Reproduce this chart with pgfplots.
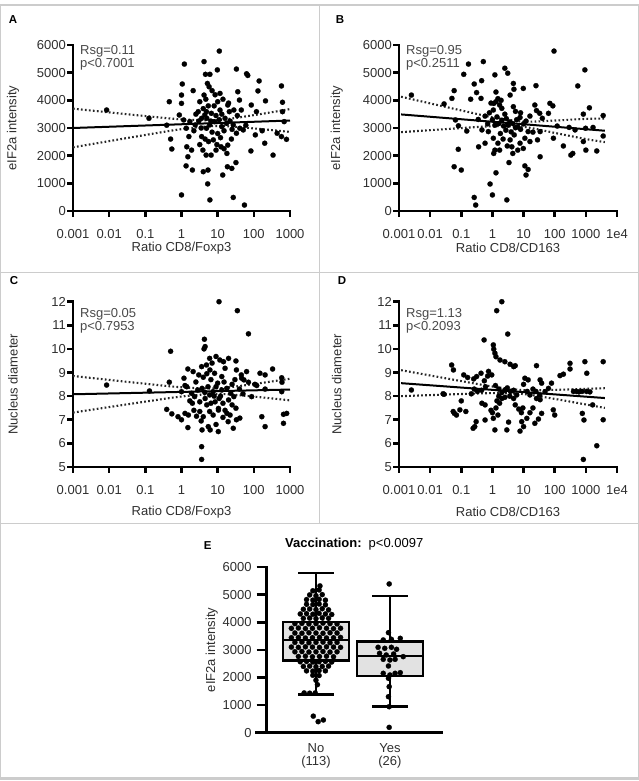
\documentclass[border=0pt]{standalone}
\usepackage{fontspec}
\setmainfont{Liberation Sans}
\usepackage{pgfplots}
\pgfplotsset{compat=1.18}
\definecolor{txt}{HTML}{303030}
\definecolor{rsg}{HTML}{4A4A4A}
\definecolor{frm}{HTML}{CCCCCC}
\definecolor{boxfill}{HTML}{E2E2E2}
\pgfplotsset{
  panel/.style={
    scale only axis, clip=false,
    axis x line*=bottom, axis y line*=left,
    axis line style={line width=2.6pt, line cap=rect},
    tick align=outside,
    major tick length=6pt,
    tick style={line width=2.6pt, black},
    tick label style={font=\fontsize{13}{13}\selectfont, text=txt, inner sep=1pt},
    label style={font=\fontsize{13}{13}\selectfont, text=txt},
  },
  scat/.style={only marks, mark=*, mark size=2.6pt, mark options={fill=black, draw=black, line width=0.2pt}},
  reg/.style={line width=2pt, black, no marks},
  band/.style={line width=2.1pt, black!85, dash pattern=on 1.7pt off 2.3pt, smooth, no marks},
  logA/.style={xmin=0.001, xmax=1000, xtick={0.001,0.01,0.1,1,10,100,1000},
    xticklabels={0.001,0.01,0.1,1,10,100,1000}, xminorticks=false, xticklabel style={yshift=-11.5pt}},
  logB/.style={xmin=0.001, xmax=10000, xtick={0.001,0.01,0.1,1,10,100,1000,10000},
    xticklabels={0.001,0.01,0.1,1,10,100,1000,1e4}, xminorticks=false, xticklabel style={yshift=-11.5pt}},
  eif/.style={ymin=0, ymax=6000, ytick={0,1000,2000,3000,4000,5000,6000},
    yticklabels={0,1000,2000,3000,4000,5000,6000}, ylabel={eIF2a intensity}},
  nuc/.style={ymin=5, ymax=12, ytick={5,6,7,8,9,10,11,12},
    yticklabels={5,6,7,8,9,10,11,12}, ylabel={Nucleus diameter}},
  bx/.style={draw=black, line width=2.6pt, line join=miter, line cap=rect, no marks},
}
\newcommand{\rsg}[3]{\node[anchor=north west, inner sep=0pt, align=left, font=\fontsize{13}{10.7}\selectfont, text=rsg] at (rel axis cs:0.032,#3) {Rsg=#1\\p<#2};}
% thick tick marks: #1 = x list, #2 = y list, #3 = ymin
\newcommand{\thickticks}[3]{%
  \pgfplotsinvokeforeach{#1}{\draw[line width=2.6pt, black] (axis cs:##1,#3) -- ++(0pt,-6pt);}%
  \pgfplotsinvokeforeach{#2}{\draw[line width=2.6pt, black] (axis cs:0.001,##1) -- ++(-6pt,0pt);}%
}
\begin{document}
\begin{tikzpicture}[x=1pt,y=1pt]
\useasboundingbox (0,0) rectangle (639,781);
\fill[white] (0,0) rectangle (639,781);
% frame
\draw[frm, line width=2.5pt] (0,776) -- (639,776);
\draw[frm, line width=3pt] (0,2) -- (639,2);
\draw[frm, line width=1pt] (0.5,2) -- (0.5,776);
\draw[frm, line width=1pt] (638.5,2) -- (638.5,776);
\draw[frm, line width=1.2pt] (0,508.3) -- (639,508.3);
\draw[frm, line width=1.2pt] (0,257.7) -- (639,257.7);
\draw[frm, line width=1pt] (319,776) -- (319,257.7);
% panel letters
\begin{scope}[every node/.style={font=\bfseries\fontsize{11.5}{12}\selectfont}]
\node at (13,761) {A};
\node at (340,761) {B};
\node at (14,500) {C};
\node at (342,500) {D};
\node at (207.7,235) {E};
\end{scope}

% ---------- A ----------
\begin{axis}[xmode=log, panel, logA, eif, at={(73pt,570pt)}, anchor=south west, width=217pt, height=166pt,
  xlabel={Ratio CD8/Foxp3},
  xlabel style={at={(axis description cs:0.5,-0.225)}, anchor=center},
  ylabel style={at={(axis description cs:-0.2765,0.5)}, anchor=center}]
\addplot[scat] coordinates {
(0.0085,3650)(0.126,3350)(0.46,3950)(0.5,2600)(0.54,2240)(0.39,3100)
(11.1,5780)(1.2,5310)(4.2,5400)(33,5130)(9.8,5100)(63,4960)(68,4900)(6.1,4940)(4.6,4940)
(140,4700)(580,4520)(1.05,4590)(5.2,4610)(5.8,4490)(2.1,4350)(1.0,4190)(4.2,4190)(11.6,4250)
(36,4310)(130,4340)(1.0,3890)(3.2,3950)(4.7,4040)(10,3950)(14,4040)(19,3830)(40,4010)(85,3830)
(210,3980)(620,3930)(2.9,3590)(4.9,3590)(6.7,3530)(11.6,3650)(21,3590)(45,3650)(118,3590)(620,3590)
(0.87,3470)(1.7,3230)(2.4,3110)(3.6,3350)(4.4,3470)(6.0,3110)(8.2,3230)(13,3050)(17.6,3170)
(27,3110)(41,2990)(51,2930)(33,2810)(4.9,2990)(1.15,3290)(1.35,2990)(110,2750)(170,2900)
(440,2810)(580,2690)(800,2590)(690,3230)(1.6,2690)(3.6,2690)(5.6,2510)(7.6,2570)(1.4,2320)
(1.9,2200)(3.9,2200)(4.8,2020)(6.6,2020)(9.0,2200)(12.4,2320)(19,2380)(18,2080)(1.5,1960)
(1.34,1630)(2.0,1480)(4.0,1420)(5.4,1480)(13.8,1300)(18.6,1600)(24.6,1540)(32,1750)(83,2170)
(340,2020)(200,2450)(5.3,980)(1.0,580)(6.1,400)(27,490)(55,215)
(2.5,3500)(3.0,3250)(3.5,3000)(4.0,3700)(5.0,3350)(5.5,3800)(6.5,3250)(7.0,2850)(8.0,3800)
(9.0,3450)(10,2800)(11,3300)(12,2650)(13,3500)(15,2900)(16,3350)(20,3900)(22,3250)(25,2950)
(28,3650)(7,4350)(8.5,4200)(4.5,2600)(3.2,2400)(2.2,2900)(9.5,2400)(15,2250)(24,2600)(35,3450)(60,3100)
};
\addplot[reg] coordinates {(0.001,3000)(1000,3270)};
\addplot[band] coordinates {(0.001,3699)(0.01,3564)(0.1,3432)(1,3312)(10,3286)(100,3465)(1000,3683)};
\addplot[band] coordinates {(0.001,2301)(0.01,2526)(0.1,2748)(1,2958)(10,3074)(100,2985)(1000,2857)};
\thickticks{0.001,0.01,0.1,1,10,100,1000}{0,1000,2000,3000,4000,5000,6000}{0}
\rsg{0.11}{0.7001}{1}
\end{axis}

% ---------- B ----------
\begin{axis}[xmode=log, panel, logB, eif, at={(399pt,570pt)}, anchor=south west, width=218pt, height=166pt,
  xlabel={Ratio CD8/CD163},
  xlabel style={at={(axis description cs:0.5,-0.225)}, anchor=center},
  ylabel style={at={(axis description cs:-0.286,0.5)}, anchor=center}]
\addplot[scat] coordinates {
(0.0025,4190)(0.028,3870)(0.05,4070)(0.059,4350)(0.065,3290)(0.081,3080)(0.08,2230)(0.059,1600)
(0.1,1480)(0.15,2890)(95,5780)(0.17,5310)(0.51,5400)(0.12,4940)(2.5,5160)(3.1,4980)(1.2,4920)
(930,5100)(550,4520)(0.26,4590)(0.45,4710)(0.31,4280)(4.7,4610)(4.9,4400)(3.7,4190)(25,4530)
(9.8,4430)(0.2,4040)(0.43,4070)(1.3,4300)(1.5,4060)(1.9,4000)(1.3,3950)(1.1,3890)(1.7,3830)
(2.0,3710)(4.7,3770)(23,3830)(26,3630)(33,3530)(70,3890)(87,3800)(63,3530)(1300,3730)(830,3500)
(3600,3450)(0.35,3310)(0.46,2930)(0.58,3430)(0.74,2870)(1.07,3650)(1.4,3400)(2.0,3280)(2.8,3340)
(3.6,3220)(1.6,3160)(2.3,3070)(3.2,3100)(4.5,3160)(5.5,3010)(6.5,3040)(2.7,2920)(4.0,2860)
(16,3430)(7.7,3380)(120,3070)(290,3020)(450,2930)(980,2990)(1700,3020)(3600,2710)(34,2870)
(14,2870)(91,2630)(28,2570)(1.07,2630)(0.36,2320)(0.58,2450)(1.1,2080)(1.2,2200)(1.7,2200)
(3.7,2570)(4.2,2320)(4.5,2080)(7.7,2450)(9.8,2260)(11,2630)(16,2510)(34,1960)(190,2350)
(330,2020)(380,2080)(830,2510)(1000,2200)(2240,2170)(1.3,1380)(3.4,1750)(11,1630)(14,1500)
(12,1300)(0.84,975)(1.0,580)(2.9,400)(0.26,490)(0.29,215)
(1.0,3300)(1.2,3100)(1.8,2800)(2.2,2600)(5.0,2750)(6.0,3300)(8.0,2950)(10,3150)(12,3250)
(0.9,3900)(0.8,3550)(1.5,2450)(3.0,2350)(6.5,2200)(20,2850)(40,3350)(0.7,3150)(2.5,3500)(5.5,3600)(8,3550)
};
\addplot[reg] coordinates {(0.00117,3490)(4074,2901)};
\addplot[band] coordinates {(0.00117,4130)(0.01,3890)(0.1,3635)(1,3389)(10,3232)(100,3269)(1000,3330)(4074,3340)};
\addplot[band] coordinates {(0.00117,2850)(0.01,2922)(0.1,2997)(1,3063)(10,3040)(100,2823)(1000,2600)(4074,2490)};
\thickticks{0.001,0.01,0.1,1,10,100,1000,10000}{0,1000,2000,3000,4000,5000,6000}{0}
\rsg{0.95}{0.2511}{1}
\end{axis}

% ---------- C ----------
\begin{axis}[xmode=log, panel, logA, nuc, at={(73pt,314pt)}, anchor=south west, width=217pt, height=165.3pt,
  xlabel={Ratio CD8/Foxp3},
  xlabel style={at={(axis description cs:0.5,-0.272)}, anchor=center},
  ylabel style={at={(axis description cs:-0.2765,0.5)}, anchor=center}]
\addplot[scat] coordinates {
(0.0085,8.47)(0.13,8.22)(0.46,8.59)(0.5,9.9)(0.39,7.44)(0.54,7.25)
(10.9,12.0)(35,11.62)(71,10.64)(4.3,10.41)(4.5,10.1)(4.2,10.0)(9.0,9.68)(11.5,9.53)(14.5,9.46)
(20,9.6)(32,9.49)(1.5,9.15)(2.1,9.04)(3.6,9.25)(4.9,9.32)(6.1,9.11)(8.2,8.97)(13,8.83)(16,9.18)
(33,9.11)(63,9.04)(148,8.97)(205,8.9)(330,9.15)(590,8.78)(1.17,8.76)(1.25,8.45)(46,8.76)(53,8.69)
(71,8.59)(107,8.5)(120,8.45)(205,8.3)(87,7.98)(1.0,8.19)
(1.9,8.12)(2.3,7.98)(2.8,8.26)(3.7,8.33)(4.4,8.16)(5.4,8.4)(6.0,8.05)(7.5,8.19)(9.0,8.4)(13,8.26)
(18,8.33)(23,8.12)(28,7.98)(590,8.19)(1.7,7.8)(2.0,7.7)(3.2,7.76)(5.0,7.63)(6.5,7.7)(8.5,7.76)
(10.5,7.48)(14,7.7)(20,7.84)(25,7.63)(32,7.49)(0.8,7.13)(1.0,7.0)(1.25,7.27)(1.55,7.2)(3.2,7.35)
(4.0,7.13)(6.0,7.35)(7.5,7.2)(10.5,7.41)(18,7.27)(22,7.2)(33,7.0)(41,7.07)(1.5,6.67)(3.7,6.57)
(5.5,6.71)(6.2,6.57)(10.4,6.5)(27,6.64)(19.5,6.92)(166,7.13)(205,6.71)(660,7.23)(810,7.27)
(660,6.85)(3.6,5.86)(3.6,5.32)(600,8.59)
(2.5,8.6)(3.0,8.9)(4.0,8.8)(5.0,8.95)(6.5,8.7)(7.0,9.4)(10,8.55)(12,8.0)(15,8.6)(25,8.5)(40,8.3)
(50,8.1)(2.2,7.4)(4.5,7.9)(8,8.0)(11,7.9)(16,7.4)(30,8.7)(3.5,6.95)(9,6.8)(14,7.1)(45,8.9)(1.4,8.4)(2.6,7.15)(6,9.6)
};
\addplot[reg] coordinates {(0.001,8.08)(1000,8.28)};
\addplot[band] coordinates {(0.001,8.855)(0.01,8.688)(0.1,8.526)(1,8.376)(10,8.331)(100,8.513)(1000,8.738)};
\addplot[band] coordinates {(0.001,7.305)(0.01,7.538)(0.1,7.768)(1,7.984)(10,8.095)(100,7.981)(1000,7.822)};
\thickticks{0.001,0.01,0.1,1,10,100,1000}{5,6,7,8,9,10,11,12}{5}
\rsg{0.05}{0.7953}{0.96}
\end{axis}

% ---------- D ----------
\begin{axis}[xmode=log, panel, logB, nuc, at={(399pt,314pt)}, anchor=south west, width=218pt, height=165.3pt,
  xlabel={Ratio CD8/CD163},
  xlabel style={at={(axis description cs:0.5,-0.272)}, anchor=center},
  ylabel style={at={(axis description cs:-0.286,0.5)}, anchor=center}]
\addplot[scat] coordinates {
(0.0025,8.26)(0.028,8.08)(2.0,12.0)(1.37,11.62)(3.1,10.63)(0.54,10.38)(1.07,10.17)(1.1,9.99)
(1.2,9.82)(1.3,9.67)(1.75,9.53)(2.5,9.46)(3.7,9.35)(4.8,9.25)(5.4,9.29)(26,9.29)(310,9.39)(310,9.15)
(930,9.46)(1070,8.97)(3600,9.46)(0.049,9.32)(0.056,9.11)(0.12,8.9)(0.16,8.79)(0.25,8.73)(0.31,8.83)
(0.43,8.97)(0.55,8.65)(0.7,8.85)(0.75,9.05)(0.95,8.9)(148,8.87)(190,8.93)(11,8.76)(14,8.69)(34,8.69)
(38,8.55)(79,8.55)(63,8.33)(0.026,8.1)
(1.25,8.45)(1.6,8.3)(2.0,8.15)(2.5,8.25)(3.0,8.35)(3.8,8.2)(4.8,8.25)(1.6,8.0)(2.0,7.9)(2.5,7.95)
(3.6,8.0)(4.8,7.9)(6.0,8.05)(1.4,7.8)(1.7,7.7)(0.6,8.4)(0.45,8.25)(0.33,8.2)(0.26,8.3)(0.21,8.1)
(10,8.5)(13,8.2)(16,8.05)(20,8.3)(25,8.2)(33,8.05)(400,8.2)(500,8.2)(600,8.18)(750,8.2)(1050,8.2)
(1350,8.18)(49,8.19)(90,7.42)(100,7.2)(770,7.27)(870,6.99)(1650,7.63)(3600,7.0)(2240,5.9)(830,5.32)
(0.1,7.8)(0.09,7.42)(0.06,7.27)(0.07,7.2)(0.055,7.35)(0.14,7.35)(0.46,7.7)(0.58,7.63)(0.9,7.4)
(1.0,7.3)(0.3,6.92)(0.27,6.71)(0.24,6.64)(0.58,6.99)(1.07,7.06)(1.5,7.2)(1.3,7.5)(1.2,6.57)(2.9,6.57)
(3.3,6.9)(5.4,7.63)(7.0,7.45)(8.5,7.3)(8.7,6.92)(10,6.71)(12.7,7.06)(7.7,6.52)(23,6.85)(30,7.03)
(38,7.27)(16,7.3)(20,7.5)(26,7.9)(34,7.85)(9.5,7.5)
};
\addplot[reg] coordinates {(0.00117,8.55)(4074,7.92)};
\addplot[band] coordinates {(0.00117,9.10)(0.01,8.876)(0.1,8.638)(1,8.408)(10,8.254)(100,8.267)(1000,8.310)(4074,8.338)};
\addplot[band] coordinates {(0.00117,8.00)(0.01,8.044)(0.1,8.090)(1,8.128)(10,8.088)(100,7.883)(1000,7.648)(4074,7.502)};
\thickticks{0.001,0.01,0.1,1,10,100,1000,10000}{5,6,7,8,9,10,11,12}{5}
\rsg{1.13}{0.2093}{0.96}
\end{axis}

% ---------- E ----------
\begin{axis}[panel, at={(266.7pt,48.3pt)}, anchor=south west, width=175pt, height=165.7pt,
  xmin=0.334, xmax=2.70, ymin=0, ymax=6000,
  ytick={0,1000,2000,3000,4000,5000,6000}, yticklabels={0,1000,2000,3000,4000,5000,6000},
  major tick length=10pt,
  yticklabel style={xshift=-4pt},
  xtick={1,2}, xticklabels={No\\(113),Yes\\(26)}, xtick style={draw=none},
  xticklabel style={align=center, font=\fontsize{13}{12.5}\selectfont},
  ylabel={eIF2a intensity},
  ylabel style={at={(axis description cs:-0.314,0.5)}, anchor=center},
  title={\textbf{Vaccination:}\hspace{7pt}p<0.0097},
  title style={at={(axis description cs:0.5,1)}, anchor=center, yshift=17pt, font=\fontsize{13}{13}\selectfont, text=black}]
% boxes (No, Yes)
\addplot[bx, fill=boxfill] coordinates {(0.555,2625)(1.445,2625)(1.445,4015)(0.555,4015)(0.555,2625)};
\addplot[bx] coordinates {(0.555,3350)(1.445,3350)};
\addplot[bx] coordinates {(1,4015)(1,5780)};
\addplot[bx] coordinates {(0.77,5780)(1.23,5780)};
\addplot[bx] coordinates {(1,2625)(1,1390)};
\addplot[bx] coordinates {(0.77,1390)(1.23,1390)};
\addplot[bx, fill=boxfill] coordinates {(1.555,2055)(2.445,2055)(2.445,3295)(1.555,3295)(1.555,2055)};
\addplot[bx] coordinates {(1.555,2780)(2.445,2780)};
\addplot[bx] coordinates {(2,3295)(2,4950)};
\addplot[bx] coordinates {(1.77,4950)(2.23,4950)};
\addplot[bx] coordinates {(2,2055)(2,945)};
\addplot[bx] coordinates {(1.77,945)(2.23,945)};
\addplot[bx] coordinates {(0.2,0)(0.334,0)};
\pgfplotsinvokeforeach{1000,2000,3000,4000,5000,6000}{\draw[line width=1.5pt, black] (axis cs:0.334,#1) -- ++(-10pt,0pt);}
\addplot[scat] coordinates {
(1.054,5315)
(0.958,5140)(1.043,5170)
(0.915,4990)(1.0,4960)(1.085,5000)
(0.873,4820)(0.958,4800)(1.043,4830)(1.128,4800)
(0.873,4650)(0.958,4640)(1.043,4660)(1.128,4630)
(0.83,4470)(0.915,4480)(1.0,4460)(1.085,4490)(1.17,4450)
(0.788,4300)(0.873,4310)(0.958,4290)(1.043,4320)(1.128,4300)(1.213,4280)
(0.83,4140)(0.915,4150)(1.0,4130)(1.085,4160)(1.17,4140)
(0.715,3950)(0.81,3960)(0.905,3940)(1.0,3950)(1.095,3970)(1.19,3950)(1.285,3940)
(0.6675,3780)(0.7625,3790)(0.8575,3770)(0.9525,3780)(1.0475,3800)(1.1425,3780)(1.2375,3770)(1.3325,3780)
(0.715,3610)(0.81,3600)(0.905,3620)(1.0,3610)(1.095,3600)(1.19,3620)(1.285,3610)
(0.6675,3440)(0.7625,3450)(0.8575,3430)(0.9525,3440)(1.0475,3450)(1.1425,3430)(1.2375,3440)(1.3325,3450)
(0.715,3270)(0.81,3280)(0.905,3260)(1.0,3270)(1.095,3280)(1.19,3260)(1.285,3270)
(0.6675,3100)(0.7625,3090)(0.8575,3110)(0.9525,3100)(1.0475,3090)(1.1425,3110)(1.2375,3100)(1.3325,3090)
(0.715,2930)(0.81,2940)(0.905,2920)(1.0,2930)(1.095,2940)(1.19,2920)(1.285,2930)
(0.7625,2760)(0.8575,2770)(0.9525,2750)(1.0475,2760)(1.1425,2770)(1.2375,2750)
(0.7875,2570)(0.8725,2580)(0.9575,2560)(1.0425,2570)(1.1275,2580)(1.2125,2560)
(0.83,2400)(0.915,2410)(1.0,2390)(1.085,2400)(1.17,2410)
(0.8725,2240)(0.9575,2230)(1.0425,2250)(1.1275,2240)
(0.9575,2080)(1.0425,2070)
(1.0,1900)(1.02,1740)
(0.84,1440)(0.915,1430)(0.99,1440)
(0.964,600)(1.03,400)(1.10,460)
};
\addplot[scat] coordinates {
(1.99,5387)(1.98,3623)(1.91,3358)(2.02,3382)(2.14,3418)(1.84,3092)(1.93,3056)(2.02,3092)(2.09,3020)
(1.86,2875)(1.95,2814)(2.05,2850)(2.18,2754)(1.91,2657)(2.0,2633)(2.07,2657)(1.98,2416)
(1.91,2150)(2.0,2089)(2.07,2150)(2.14,2174)(1.98,1969)(1.99,1667)(1.98,1304)(1.99,942)(1.99,193)
};
\end{axis}
\end{tikzpicture}
\end{document}
